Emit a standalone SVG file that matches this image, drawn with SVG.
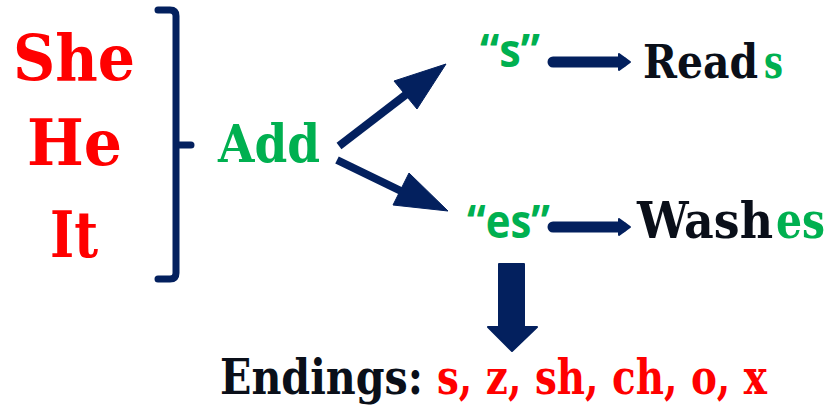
<svg xmlns="http://www.w3.org/2000/svg" width="830" height="405" viewBox="0 0 830 405">
<style>
.t{font-family:"DejaVu Serif","Liberation Serif",serif;font-weight:bold;font-stretch:condensed}
.q{font-family:"Open Sans","Noto Sans",sans-serif;font-weight:bold}
.red{fill:#ff0000}.grn{fill:#00b050}.blk{fill:#0a0f19}
.nv{stroke:#03205e;fill:none}
.nvf{fill:#03205e;stroke:#03205e;stroke-linejoin:round}
</style>
<rect width="830" height="405" fill="#ffffff"/>
<g id="pronouns">
<text class="t red" x="13" y="80" font-size="64" textLength="122" lengthAdjust="spacingAndGlyphs">She</text>
<text class="t red" x="27" y="165" font-size="64" textLength="95" lengthAdjust="spacingAndGlyphs">He</text>
<text class="t red" x="50" y="257" font-size="64" textLength="48" lengthAdjust="spacingAndGlyphs">It</text>
</g>
<g id="bracket">
<path class="nv" d="M158 10 H170 Q176 10 176 16 V273 Q176 279 170 279 H158 M176 145 H191" stroke-width="7" stroke-linecap="round"/>
</g>
<g id="add">
<text class="t grn" x="218" y="162" font-size="52" textLength="102" lengthAdjust="spacingAndGlyphs">Add</text>
</g>
<g id="s">
<text class="q grn" x="480" y="67" font-size="46" textLength="60" lengthAdjust="spacingAndGlyphs">“s”</text>
</g>
<g id="es">
<text class="q grn" x="467" y="238" font-size="46" textLength="83" lengthAdjust="spacingAndGlyphs">“es”</text>
</g>
<g id="reads">
<text class="t blk" x="643" y="78" font-size="47" textLength="115" lengthAdjust="spacingAndGlyphs">Read</text>
<text class="t grn" x="764" y="78" font-size="47" textLength="19" lengthAdjust="spacingAndGlyphs">s</text>
</g>
<g id="washes">
<text class="t blk" x="637" y="238" font-size="51" textLength="136" lengthAdjust="spacingAndGlyphs">Wash</text>
<text class="t grn" x="776" y="238" font-size="51" textLength="49" lengthAdjust="spacingAndGlyphs">es</text>
</g>
<g id="endings">
<text class="t blk" x="220" y="394" font-size="48" textLength="203" lengthAdjust="spacingAndGlyphs">Endings:</text>
<text class="t red" x="437" y="394" font-size="48" textLength="330" lengthAdjust="spacingAndGlyphs">s, z, sh, ch, o, x</text>
</g>
<g id="connectors">
<line class="nv" x1="339" y1="146" x2="408" y2="93" stroke-width="8"/>
<polygon class="nvf" points="446,64 394,81 417,109" stroke-width="1"/>
<line class="nv" x1="337" y1="160" x2="403" y2="192" stroke-width="8"/>
<polygon class="nvf" points="448,211 409,173 393,205" stroke-width="1"/>
<line class="nv" x1="553" y1="62" x2="622" y2="62" stroke-width="11" stroke-linecap="round"/>
<polygon class="nvf" points="619,54 630,62 619,70" stroke-width="2"/>
<line class="nv" x1="553" y1="227" x2="622" y2="227" stroke-width="11" stroke-linecap="round"/>
<polygon class="nvf" points="619,219 630,227 619,235" stroke-width="2"/>
<path class="nvf" d="M499 264 H524 V327 H537 L512 351 L488 327 H499 Z" stroke-width="2"/>
</g>
</svg>
